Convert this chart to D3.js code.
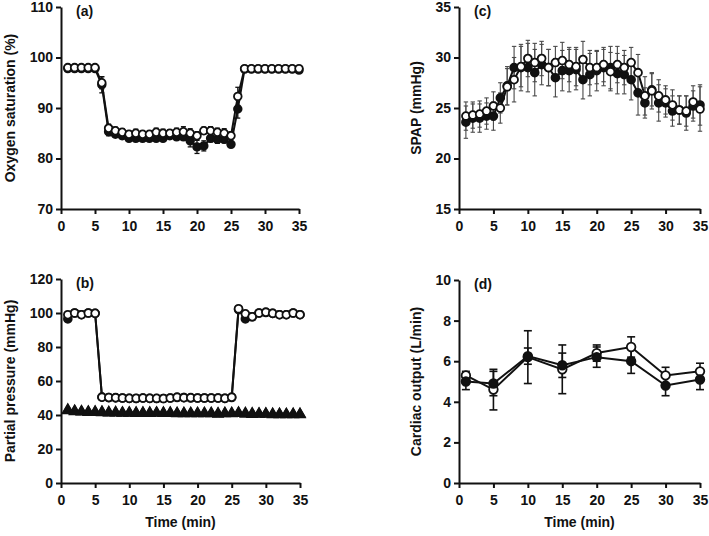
<!DOCTYPE html>
<html lang="en">
    <head>
        <meta charset="utf-8" />
        <title>Hypoxia panels</title>
        <script type="text/javascript" src="https://cdn.jsdelivr.net/npm/d3@7"></script>
        <style type="text/css">
            body { margin: 0; background: #fff; }
            svg { display: block; }
            text { font-family: "Liberation Sans", Arial, sans-serif; font-weight: bold; fill: #111; }
        </style>
    </head>
    <body>
        <script type="text/javascript">
            // ---- data ----
            var timeFull = [1, 2, 3, 4, 5, 6, 7, 8, 9, 10, 11, 12, 13, 14, 15, 16, 17, 18, 19, 20,
                            21, 22, 23, 24, 25, 26, 27, 28, 29, 30, 31, 32, 33, 34, 35];
            var timeCO = [1, 5, 10, 15, 20, 25, 30, 35];

            // (a) oxygen saturation
            var satOpen = [98, 98, 98, 98, 98, 95, 86, 85.5, 85.2, 84.8, 85, 84.8, 84.8, 85.2, 85, 85, 85.2, 85.3, 85, 84.5,
                           85.5, 85.5, 85.2, 85, 84.5, 92.3, 97.8, 97.8, 97.8, 97.8, 97.8, 97.8, 97.8, 97.8, 97.8];
            var satOpenSd = [0.3, 0.3, 0.3, 0.3, 0.3, 1.2, 0.8, 0.7, 0.7, 0.7, 0.8, 0.7, 0.7, 0.8, 0.8, 0.7, 0.8, 1.0, 0.9, 0.8,
                             0.7, 0.8, 0.8, 0.9, 0.8, 1.8, 0.3, 0.3, 0.3, 0.3, 0.3, 0.3, 0.3, 0.3, 0.3];
            var satFilled = [97.8, 97.8, 97.8, 97.8, 97.8, 94.6, 85.3, 84.8, 84.5, 84, 84, 84, 84, 84, 84, 84.5, 84.3, 84.3, 83.5, 82.3,
                             82.5, 84, 83.8, 83.8, 82.8, 89.8, 97.7, 97.7, 97.7, 97.7, 97.7, 97.7, 97.7, 97.7, 97.5];
            var satFilledSd = [0.3, 0.3, 0.3, 0.3, 0.3, 1.6, 0.8, 0.6, 0.6, 0.5, 0.6, 0.6, 0.6, 0.6, 0.6, 0.6, 0.6, 0.7, 1.2, 1.3,
                               1.0, 0.7, 0.8, 0.7, 0.6, 1.8, 0.3, 0.3, 0.3, 0.3, 0.3, 0.3, 0.3, 0.3, 0.3];

            // (b) partial pressures
            var po2Open = [99, 100, 99, 100, 99.8, 50.5, 50.3, 50.2, 50, 49.8, 49.8, 50, 49.8, 49.8, 49.7, 50, 50.5, 50.2, 50.2, 50,
                           50, 50, 50, 49.8, 50.5, 102.5, 99.5, 97.8, 100, 100.5, 99.8, 99, 99, 100, 99];
            var po2Filled = [96.5, 100, 99, 100, 99.8, 50.5, 50.2, 50.1, 50, 49.8, 49.7, 50, 49.8, 49.7, 49.7, 50, 50.3, 50.2, 50, 50,
                             50, 50, 50, 49.8, 50.3, 102, 96.5, 97.8, 100, 100.3, 99.8, 99, 99, 100, 99];
            var pco2Open = [42.6, 42, 41.8, 41.6, 41.6, 41.5, 41.3, 41.3, 41.1, 41.1, 41, 41, 41, 41.1, 41, 41, 40.8, 40.8, 40.8, 40.8,
                            40.8, 40.8, 40.6, 40.8, 40.8, 41, 40.6, 40.4, 40.5, 40.5, 40.3, 40.3, 40.2, 40.3, 40.3];
            var pco2Filled = [43, 42.3, 42, 41.8, 41.8, 41.7, 41.5, 41.5, 41.3, 41.3, 41.2, 41.2, 41.2, 41.3, 41.2, 41.2, 41, 41, 41, 41,
                              41, 41, 40.8, 41, 41, 41.2, 41, 40.8, 40.7, 40.7, 40.5, 40.5, 40.4, 40.5, 40.5];

            // (c) SPAP
            var spapOpen = [24.2, 24.3, 24.4, 24.7, 25.2, 25.0, 27.1, 27.8, 29.1, 29.9, 29.5, 29.9, 29.0, 29.5, 29.7, 29.3, 29.1, 29.8, 29.0, 29.0,
                            29.3, 28.6, 29.3, 29.0, 29.5, 28.5, 26.2, 26.7, 26.2, 25.8, 25.3, 24.8, 24.7, 25.6, 24.9];
            var spapOpenSd = [1.4, 1.3, 1.3, 1.3, 1.4, 1.5, 1.8, 2.2, 2.0, 1.8, 1.9, 1.7, 1.8, 1.6, 1.8, 1.7, 1.9, 1.8, 1.7, 1.6,
                              1.7, 1.9, 1.8, 1.7, 1.5, 1.8, 1.9, 1.8, 1.6, 1.4, 1.5, 1.4, 1.5, 1.6, 2.2];
            var spapFilled = [23.6, 24.0, 24.0, 24.2, 24.2, 26.0, 27.2, 29.0, 29.0, 29.0, 28.5, 29.3, 29.0, 28.0, 28.7, 28.7, 28.8, 27.8, 28.3, 28.7,
                              29.0, 29.0, 28.4, 28.3, 27.8, 26.5, 25.5, 26.8, 25.5, 25.5, 24.7, 24.8, 24.5, 25.2, 25.3];
            var spapFilledSd = [1.6, 1.4, 1.4, 1.3, 1.4, 1.5, 1.9, 2.1, 2.3, 2.4, 2.3, 2.0, 1.8, 1.9, 2.0, 2.1, 2.0, 1.9, 2.1, 2.0,
                                1.8, 2.1, 2.0, 1.9, 2.0, 2.2, 1.5, 1.6, 1.8, 1.4, 1.5, 1.4, 1.7, 1.5, 2.0];

            // (d) cardiac output
            var coOpen = [5.3, 4.6, 6.2, 5.6, 6.4, 6.7, 5.3, 5.5];
            var coOpenSd = [0.2, 1.0, 1.3, 1.2, 0.4, 0.5, 0.4, 0.4];
            var coFilled = [5.0, 4.9, 6.25, 5.8, 6.2, 6.0, 4.8, 5.1];
            var coFilledSd = [0.4, 0.6, 0.4, 0.6, 0.5, 0.6, 0.5, 0.5];

            var w = 709;
            var h = 536;

            var svg = d3.select("body")
                .append("svg")
                .attr("width", w)
                .attr("height", h);

            svg.append("rect").attr("width", w).attr("height", h).attr("fill", "#fff");

            function zip(t, v, sd) {
                return t.map(function(d, i) {
                    return { t: d, v: v[i], sd: sd ? sd[i] : 0 };
                });
            }

            function drawPanel(p) {
                var x = d3.scaleLinear().domain([0, 35]).range([p.x0, p.x1]);
                var y = d3.scaleLinear().domain(p.yDomain).range([p.y0, p.y1]);
                var g = svg.append("g");

                // axes
                var xAxis = g.append("g")
                    .attr("transform", "translate(0," + p.y0 + ")")
                    .call(d3.axisBottom(x).tickValues([0, 5, 10, 15, 20, 25, 30, 35])
                        .tickSize(5).tickSizeOuter(0).tickPadding(7));
                var yAxis = g.append("g")
                    .attr("transform", "translate(" + p.x0 + ",0)")
                    .call(d3.axisLeft(y).tickValues(p.yTicks)
                        .tickSize(5).tickSizeOuter(0).tickPadding(3));
                [xAxis, yAxis].forEach(function(a) {
                    a.select(".domain").attr("stroke", "#111").attr("stroke-width", 2);
                    a.selectAll(".tick line").attr("stroke", "#111").attr("stroke-width", 2);
                    a.selectAll(".tick text")
                        .attr("font-size", "14px")
                        .attr("font-family", "'Liberation Sans', Arial, sans-serif")
                        .attr("font-weight", "bold")
                        .attr("fill", "#111");
                });

                // panel label
                g.append("text")
                    .attr("x", p.x0 + 15)
                    .attr("y", p.y1 + 9)
                    .attr("font-size", "14px")
                    .text(p.label);

                // y title
                g.append("text")
                    .attr("transform", "translate(" + p.titleX + "," + (p.y0 + p.y1) / 2 + ") rotate(-90)")
                    .attr("text-anchor", "middle")
                    .attr("font-size", "14px")
                    .text(p.yTitle);

                if (p.xTitle) {
                    g.append("text")
                        .attr("x", (p.x0 + p.x1) / 2)
                        .attr("y", 527)
                        .attr("text-anchor", "middle")
                        .attr("font-size", "14px")
                        .text(p.xTitle);
                }

                var line = d3.line()
                    .x(function(d) { return x(d.t); })
                    .y(function(d) { return y(d.v); });

                // lines first
                p.series.forEach(function(s) {
                    g.append("path")
                        .datum(s.data)
                        .attr("fill", "none")
                        .attr("stroke", "#111")
                        .attr("stroke-width", 2)
                        .attr("d", line);
                });

                // error bars
                p.series.forEach(function(s) {
                    if (!s.errors) return;
                    var eb = g.append("g").attr("stroke", p.errColor).attr("stroke-width", p.errWidth);
                    var bars = eb.selectAll("g").data(s.data).enter().append("g");
                    bars.append("line")
                        .attr("x1", function(d) { return x(d.t); })
                        .attr("x2", function(d) { return x(d.t); })
                        .attr("y1", function(d) { return y(d.v - d.sd); })
                        .attr("y2", function(d) { return y(d.v + d.sd); });
                    [-1, 1].forEach(function(sg) {
                        bars.append("line")
                            .attr("x1", function(d) { return x(d.t) - p.cap; })
                            .attr("x2", function(d) { return x(d.t) + p.cap; })
                            .attr("y1", function(d) { return y(d.v + sg * d.sd); })
                            .attr("y2", function(d) { return y(d.v + sg * d.sd); });
                    });
                });

                // markers
                p.series.forEach(function(s) {
                    var sym = d3.symbol().type(s.shape === "tri" ? d3.symbolTriangle : d3.symbolCircle).size(s.size);
                    g.append("g").selectAll("path")
                        .data(s.data)
                        .enter()
                        .append("path")
                        .attr("transform", function(d) { return "translate(" + x(d.t) + "," + y(d.v) + ")"; })
                        .attr("d", sym)
                        .attr("fill", s.filled ? "#111" : "#fff")
                        .attr("stroke", "#111")
                        .attr("stroke-width", 1.8);
                });
            }

            drawPanel({
                label: "(a)", yTitle: "Oxygen saturation (%)", titleX: 15,
                x0: 61, x1: 299, y0: 209, y1: 7,
                yDomain: [70, 110], yTicks: [70, 80, 90, 100, 110],
                errColor: "#111", errWidth: 1.3, cap: 2.5,
                series: [
                    { data: zip(timeFull, satFilled, satFilledSd), filled: true, errors: true, size: 46 },
                    { data: zip(timeFull, satOpen, satOpenSd), filled: false, errors: true, size: 46 }
                ]
            });

            drawPanel({
                label: "(b)", yTitle: "Partial pressure (mmHg)", titleX: 15, xTitle: "Time (min)",
                x0: 61, x1: 300, y0: 483, y1: 279,
                yDomain: [0, 120], yTicks: [0, 20, 40, 60, 80, 100, 120],
                errColor: "#111", errWidth: 1.2, cap: 2.5,
                series: [
                    { data: zip(timeFull, pco2Open), filled: false, shape: "tri", size: 40 },
                    { data: zip(timeFull, pco2Filled), filled: true, shape: "tri", size: 40 },
                    { data: zip(timeFull, po2Filled), filled: true, size: 48 },
                    { data: zip(timeFull, po2Open), filled: false, size: 48 }
                ]
            });

            drawPanel({
                label: "(c)", yTitle: "SPAP (mmHg)", titleX: 421,
                x0: 459, x1: 700, y0: 209, y1: 7,
                yDomain: [15, 35], yTicks: [15, 20, 25, 30, 35],
                errColor: "#4a4a4a", errWidth: 1.1, cap: 2.2,
                series: [
                    { data: zip(timeFull, spapFilled, spapFilledSd), filled: true, errors: true, size: 48 },
                    { data: zip(timeFull, spapOpen, spapOpenSd), filled: false, errors: true, size: 48 }
                ]
            });

            drawPanel({
                label: "(d)", yTitle: "Cardiac output (L/min)", titleX: 421, xTitle: "Time (min)",
                x0: 459, x1: 700, y0: 483, y1: 280,
                yDomain: [0, 10], yTicks: [0, 2, 4, 6, 8, 10],
                errColor: "#111", errWidth: 1.6, cap: 4,
                series: [
                    { data: zip(timeCO, coOpen, coOpenSd), filled: false, errors: true, size: 58 },
                    { data: zip(timeCO, coFilled, coFilledSd), filled: true, errors: true, size: 58 }
                ]
            });
        </script>
    </body>
</html>
